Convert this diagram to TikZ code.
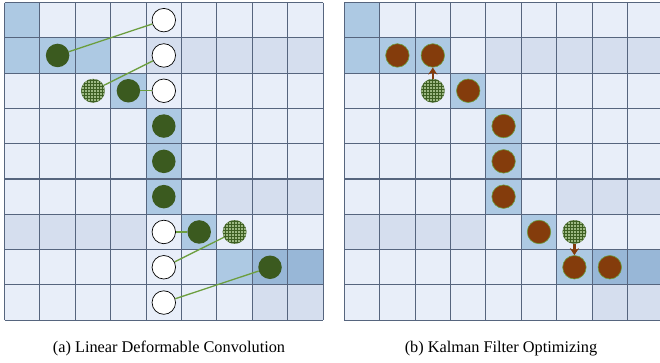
\documentclass[tikz,border=0pt]{standalone}
\usepackage{fontspec}
\setmainfont{Liberation Serif}
\usetikzlibrary{patterns,arrows.meta}
\definecolor{cL}{HTML}{E8EEF9}
\definecolor{cM}{HTML}{ADC9E3}
\definecolor{cG}{HTML}{D5DEEE}
\definecolor{cD}{HTML}{98B7D7}
\definecolor{gridc}{HTML}{56657E}
\definecolor{dgreen}{HTML}{3B5A1F}
\definecolor{lgreen}{HTML}{6C9E3E}
\definecolor{brownc}{HTML}{843C0C}
\definecolor{hatchbg}{HTML}{9CB882}
\definecolor{hatchfg}{HTML}{3D5F22}
\tikzset{
  gridline/.style={draw=gridc, line width=1.1pt},
  whitec/.style={circle, minimum size=23.5pt, inner sep=0pt, draw=black, line width=0.7pt, fill=white},
  greenc/.style={circle, minimum size=23.5pt, inner sep=0pt, fill=dgreen},
  hatchc/.style={circle, minimum size=23.5pt, inner sep=0pt, fill=hatchbg, draw=hatchfg!80, line width=0.4pt,
    postaction={pattern=grid, pattern color=hatchfg}},
  brownn/.style={circle, minimum size=23.5pt, inner sep=0pt, fill=brownc, draw=lgreen, line width=0.6pt},
  link/.style={draw=lgreen, line width=1.3pt},
  barrow/.style={draw=brownc, line width=2.3pt, -{Stealth[length=7pt,width=9pt]}},
  caption/.style={font=\fontsize{16.3}{19}\selectfont, inner sep=0pt}
}
\newcommand\cellfill[4]{\fill[#4] ({#1+35.4*#3},{2.5+35.3*#2}) rectangle ++(35.4,35.3);}
\newcommand\mygrid[1]{%
  \fill[cL] (#1,2.5) rectangle ++(318.6,317.7);
  \cellfill{#1}{0}{0}{cM}
  \cellfill{#1}{1}{0}{cM}\cellfill{#1}{1}{1}{cM}\cellfill{#1}{1}{2}{cM}
  \foreach \c in {4,...,8}{\cellfill{#1}{1}{\c}{cG}}
  \cellfill{#1}{2}{3}{cM}
  \cellfill{#1}{3}{4}{cM}\cellfill{#1}{4}{4}{cM}\cellfill{#1}{5}{4}{cM}
  \foreach \c in {6,7,8}{\cellfill{#1}{5}{\c}{cG}}
  \foreach \c in {0,...,3}{\cellfill{#1}{6}{\c}{cG}}
  \cellfill{#1}{6}{5}{cM}
  \cellfill{#1}{7}{6}{cM}\cellfill{#1}{7}{7}{cD}\cellfill{#1}{7}{8}{cD}
  \cellfill{#1}{8}{7}{cG}\cellfill{#1}{8}{8}{cG}
  \foreach \i in {0,...,9}{
    \draw[gridline] ({#1+35.4*\i},2.5) -- ++(0,317.7);
    \draw[gridline] (#1,{2.5+35.3*\i}) -- ++(318.6,0);
  }%
}
\begin{document}
\begin{tikzpicture}[x=1pt,y=-1pt]
\useasboundingbox (0,0) rectangle (660,362);
\begin{scope}
\clip (0,0) rectangle (660,362);
\mygrid{4.5}
\mygrid{344.3}
\end{scope}
\foreach \r in {0,...,8}{\foreach \c in {0,...,8}{
  \coordinate (L\r\c) at ({4.5+35.4*(\c+0.5)},{2.5+35.3*(\r+0.5)});
  \coordinate (R\r\c) at ({344.3+35.4*(\c+0.5)},{2.5+35.3*(\r+0.5)});
}}
% left grid
\node[whitec] (w0) at (L04) {};
\node[whitec] (w1) at (L14) {};
\node[whitec] (w2) at (L24) {};
\node[whitec] (w6) at (L64) {};
\node[whitec] (w7) at (L74) {};
\node[whitec] (w8) at (L84) {};
\node[greenc] (g11) at (L11) {};
\node[hatchc] (h22) at (L22) {};
\node[greenc] (g23) at (L23) {};
\node[greenc] (g34) at (L34) {};
\node[greenc] (g44) at (L44) {};
\node[greenc] (g54) at (L54) {};
\node[greenc] (g65) at (L65) {};
\node[hatchc] (h66) at (L66) {};
\node[greenc] (g77) at (L77) {};
\draw[link] (w0) -- (g11);
\draw[link] (w1) -- (h22);
\draw[link] (w2) -- (g23);
\draw[link] (w6) -- (g65);
\draw[link] (w7) -- (h66);
\draw[link] (w8) -- (g77);
% right grid
\node[brownn] (b11) at (R11) {};
\node[brownn] (b12) at (R12) {};
\node[hatchc] (rh22) at (R22) {};
\node[brownn] (b23) at (R23) {};
\node[brownn] (b34) at (R34) {};
\node[brownn] (b44) at (R44) {};
\node[brownn] (b54) at (R54) {};
\node[brownn] (b65) at (R65) {};
\node[hatchc] (rh66) at (R66) {};
\node[brownn] (b76) at (R76) {};
\node[brownn] (b77) at (R77) {};
\draw[barrow] (rh22) -- (b12);
\draw[barrow] (rh66) -- (b76);
% captions
\node[caption] (capa) at (169,348.5) {(a) Linear Deformable Convolution};
\node[caption] (capb) at (501,348.5) {(b) Kalman Filter Optimizing};
\end{tikzpicture}
\end{document}
